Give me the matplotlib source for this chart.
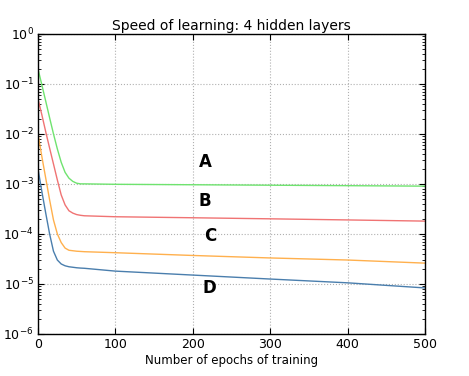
import matplotlib
matplotlib.use("Agg")
import matplotlib.pyplot as plt

epochs = [0, 5, 10, 15, 20, 25, 30, 35, 40, 45, 50, 55, 60, 100, 200, 300, 400, 500]

layer_a = [0.2, 0.095, 0.045, 0.021, 0.01, 0.005, 0.0027, 0.0017, 0.0013, 0.00112,
           0.00103, 0.001, 0.001, 0.00098, 0.00096, 0.00094, 0.00092, 0.0009]
layer_b = [0.05, 0.024, 0.011, 0.0052, 0.0025, 0.0012, 0.0006, 0.00038, 0.00029,
           0.00026, 0.000243, 0.000235, 0.00023, 0.00022, 0.00021, 0.0002, 0.00019, 0.00018]
layer_c = [0.01, 0.0035, 0.0013, 0.00048, 0.00019, 0.0001, 6.7e-5, 5.2e-5, 4.7e-5,
           4.6e-5, 4.5e-5, 4.45e-5, 4.4e-5, 4.2e-5, 3.7e-5, 3.3e-5, 3.0e-5, 2.6e-5]
layer_d = [0.002, 0.0007, 0.00026, 0.0001, 4.5e-5, 3.0e-5, 2.5e-5, 2.3e-5, 2.2e-5,
           2.15e-5, 2.1e-5, 2.07e-5, 2.05e-5, 1.8e-5, 1.5e-5, 1.25e-5, 1.05e-5, 8.3e-6]

labels = ["A", "B", "C", "D"]
label_x = [216, 216, 222, 222]
label_y = [2.75e-3, 4.6e-4, 9e-5, 8.3e-6]


def plot_chart():
    fig = plt.figure(figsize=(4.69, 3.76), dpi=100)
    ax = fig.add_axes([0.081, 0.112, 0.825, 0.798])

    ax.semilogy(epochs, layer_a, color="#6fe36f", linewidth=1)
    ax.semilogy(epochs, layer_b, color="#f07373", linewidth=1)
    ax.semilogy(epochs, layer_c, color="#ffb04d", linewidth=1)
    ax.semilogy(epochs, layer_d, color="#4a7ead", linewidth=1)

    for lab, lx, ly in zip(labels, label_x, label_y):
        ax.text(lx, ly, lab, fontsize=12, fontweight="bold", ha="center", va="center")

    ax.set_xlim(0, 500)
    ax.set_ylim(1e-6, 1)
    ax.set_title("Speed of learning: 4 hidden layers", fontsize=10, pad=3)
    ax.set_xlabel("Number of epochs of training", fontsize=8.5, labelpad=2)

    ax.grid(True, which="major", color="#b0b0b0", linestyle=":", linewidth=0.8)
    ax.tick_params(which="both", direction="in", top=True, right=True,
                   labelsize=9, pad=3)
    ax.tick_params(which="major", length=4)
    ax.tick_params(which="minor", length=2)
    for s in ax.spines.values():
        s.set_linewidth(1)

    fig.savefig("out.png", dpi=100)


if __name__ == '__main__':
    plot_chart()
